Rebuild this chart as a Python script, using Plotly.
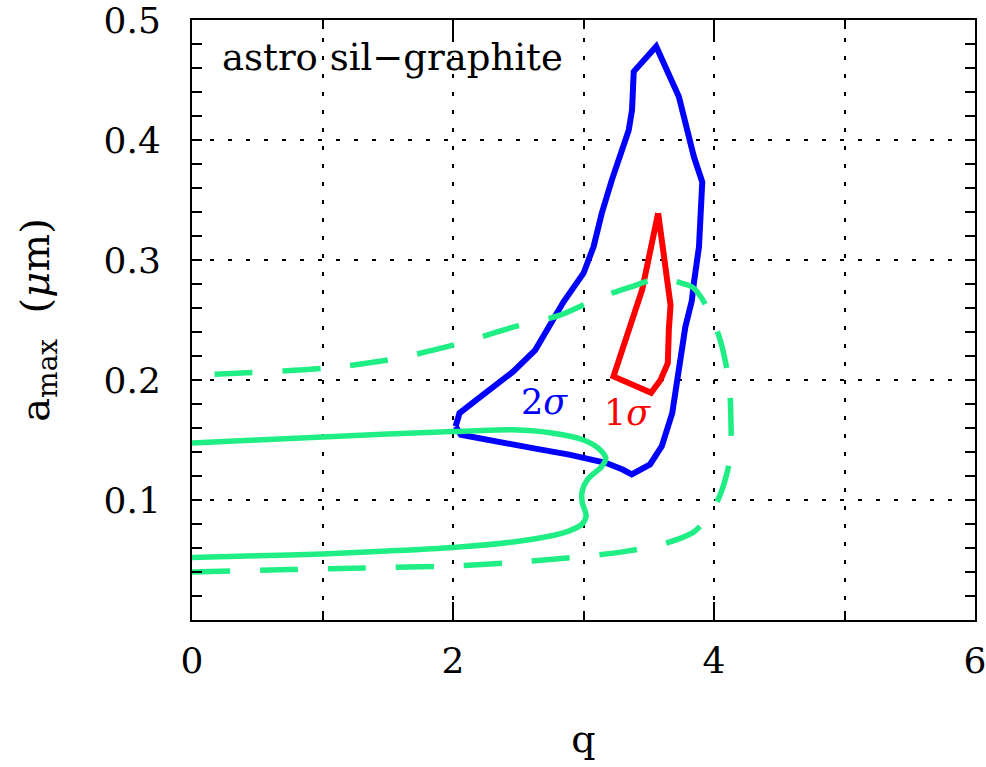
import plotly.graph_objects as go

# 2-sigma contour (blue)
q_2sig = [2.02, 2.05, 2.18, 2.46, 2.63, 2.72, 2.846, 3.0, 3.077, 3.14, 3.218, 3.346, 3.372, 3.385,
          3.557, 3.731, 3.795, 3.846, 3.91, 3.885, 3.846, 3.83, 3.78, 3.73, 3.68, 3.60, 3.51, 3.37,
          3.30, 3.17, 2.89, 2.60, 2.32, 2.06, 2.02]
a_2sig = [0.1613, 0.1724, 0.1834, 0.2069, 0.2249, 0.242, 0.265, 0.289, 0.311, 0.339, 0.367, 0.408,
          0.425, 0.457, 0.478, 0.436, 0.408, 0.386, 0.365, 0.311, 0.281, 0.266, 0.244, 0.2055, 0.1724,
          0.1448, 0.1296, 0.1213, 0.1254, 0.131, 0.1378, 0.1434, 0.1489, 0.1544, 0.1613]

# 1-sigma contour (red)
q_1sig = [3.572, 3.64, 3.667, 3.654, 3.646, 3.59, 3.518, 3.23, 3.346, 3.449, 3.572]
a_1sig = [0.339, 0.278, 0.2625, 0.242, 0.214, 0.2, 0.1894, 0.203, 0.2417, 0.275, 0.339]

# green solid curve
q_solid = [0, 0.5, 1.0, 1.5, 2.0, 2.46, 2.745, 3.0, 3.115, 3.17, 3.14, 3.03, 2.99, 2.99, 3.02,
           2.99, 2.89, 2.745, 2.46, 2.0, 1.5, 1.0, 0.5, 0]
a_solid = [0.1475, 0.150, 0.1525, 0.155, 0.157, 0.1585, 0.156, 0.150, 0.143, 0.135, 0.128, 0.117,
           0.1075, 0.098, 0.087, 0.080, 0.0743, 0.070, 0.065, 0.0605, 0.0575, 0.055, 0.0535, 0.052]

# green dashed curve
q_dash = [0, 0.75, 1.32, 2.0, 2.46, 3.0, 3.31, 3.6, 3.84, 3.94, 4.03, 4.10, 4.13, 4.13, 4.12,
          4.09, 4.04, 3.95, 3.84, 3.72, 3.59, 3.36, 3.13, 2.82, 2.46, 2.0, 1.5, 1.0, 0.3, 0]
a_dash = [0.040, 0.042, 0.0434, 0.045, 0.048, 0.053, 0.057, 0.063, 0.073, 0.084, 0.1, 0.1227,
          0.142, 0.164, 0.192, 0.214, 0.236, 0.26, 0.277, 0.2817, 0.285, 0.2775, 0.269, 0.254,
          0.244, 0.229, 0.2166, 0.2097, 0.2055, 0.204]

x_ticks = [0, 2, 4, 6]
y_ticks = [0.1, 0.2, 0.3, 0.4, 0.5]
y_ticktext = ["0.1", "0.2", "0.3", "0.4", "0.5"]

GREEN = "#1FEE84"
FONT = "DejaVu Serif"

fig = go.Figure()
fig.add_trace(go.Scatter(x=q_2sig, y=a_2sig, mode="lines",
                         line=dict(color="#0000FF", width=6)))
fig.add_trace(go.Scatter(x=q_1sig, y=a_1sig, mode="lines",
                         line=dict(color="#FF0000", width=6)))
fig.add_trace(go.Scatter(x=q_solid, y=a_solid, mode="lines",
                         line=dict(color=GREEN, width=5.5, shape="spline", smoothing=0.8)))
fig.add_trace(go.Scatter(x=q_dash, y=a_dash, mode="lines",
                         line=dict(color=GREEN, width=5.5, shape="spline", smoothing=0.8,
                                   dash="38px,30px")))

grid_style = dict(gridcolor="black", gridwidth=1.5, griddash="4px,14px")

fig.update_xaxes(
    range=[0, 6], tickvals=x_ticks, ticktext=[str(v) for v in x_ticks],
    ticks="inside", ticklen=18, tickwidth=2, tickcolor="black",
    showline=True, linecolor="black", linewidth=2, mirror="ticks",
    showgrid=True, **grid_style, zeroline=False,
    minor=dict(dtick=1, tick0=0, ticks="inside", ticklen=9, tickwidth=2, tickcolor="black",
               showgrid=True, **grid_style),
    tickfont=dict(size=36, family=FONT, color="black"),
    ticklabelstandoff=8,
    ticklabeloverflow="allow",
    automargin=False,
    title=dict(text="q", font=dict(size=38, family=FONT, color="black"), standoff=45),
)
fig.update_yaxes(
    range=[0, 0.5], tickvals=y_ticks, ticktext=y_ticktext,
    ticks="inside", ticklen=10, tickwidth=2, tickcolor="black",
    showline=True, linecolor="black", linewidth=2, mirror="ticks",
    showgrid=True, **grid_style, zeroline=False,
    minor=dict(dtick=0.02, tick0=0, ticks="inside", ticklen=10, tickwidth=2, tickcolor="black",
               showgrid=False),
    tickfont=dict(size=36, family=FONT, color="black"),
    ticklabelstandoff=22,
    ticklabeloverflow="allow",
    automargin=False,
    title=dict(text="a<sub>max</sub>  (<i>μ</i>m)", font=dict(size=40, family=FONT, color="black"),
               standoff=42),
)

fig.add_annotation(x=0.215, y=0.469, xref="x", yref="y", text="astro sil−graphite",
                   showarrow=False, xanchor="left", yanchor="middle",
                   font=dict(size=37, family=FONT, color="black"))
fig.add_annotation(x=2.70, y=0.182, xref="x", yref="y", text="2<i>σ</i>",
                   showarrow=False, font=dict(size=35, family=FONT, color="#0000FF"))
fig.add_annotation(x=3.34, y=0.1725, xref="x", yref="y", text="1<i>σ</i>",
                   showarrow=False, font=dict(size=35, family=FONT, color="#FF0000"))

fig.update_layout(
    width=986, height=767,
    margin=dict(l=192, r=11, t=20, b=147),
    plot_bgcolor="white", paper_bgcolor="white",
    showlegend=False,
    font=dict(family=FONT, color="black"),
)

# remove the default page margin so the figure fills the 986x767 window exactly
fig.write_html(
    "out.html",
    config={"displayModeBar": False},
    post_script="document.body.style.margin='0';document.body.style.overflow='hidden';",
)
